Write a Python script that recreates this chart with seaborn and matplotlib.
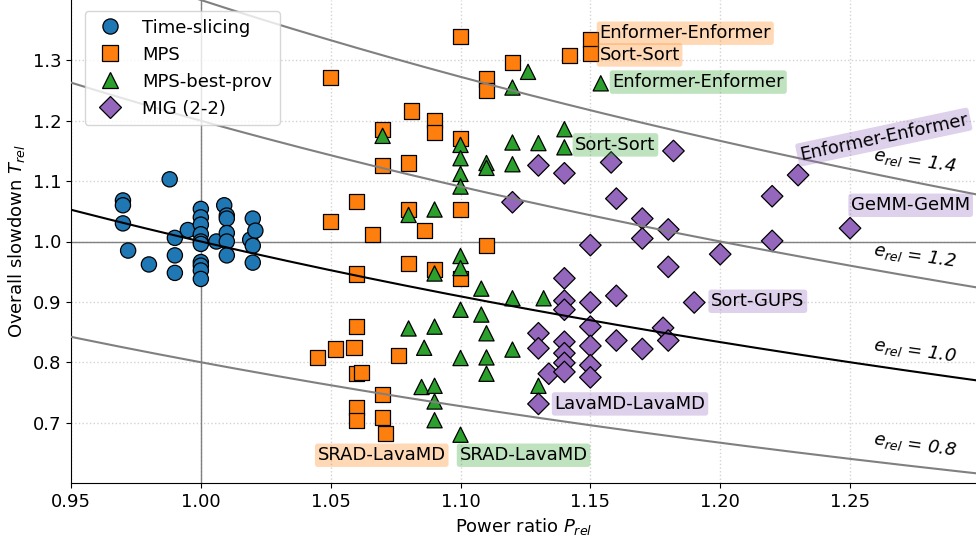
import numpy as np
import pandas as pd
import seaborn as sns
import matplotlib.pyplot as plt

# Time-slicing
ts_p = [0.970, 0.970, 0.970, 0.988, 0.972, 0.980, 0.990, 0.990, 0.990, 0.995,
        1.000, 1.000, 1.000, 1.000, 1.000, 1.000, 1.000, 1.000, 1.000, 1.000,
        1.006, 1.009, 1.010, 1.010, 1.010, 1.010, 1.010, 1.019, 1.020, 1.021,
        1.020, 1.020]
ts_t = [1.068, 1.060, 1.030, 1.103, 0.985, 0.962, 1.006, 0.977, 0.948, 1.019,
        1.054, 1.040, 1.028, 1.012, 1.000, 0.996, 0.966, 0.960, 0.952, 0.938,
        1.000, 1.060, 1.043, 1.038, 1.014, 1.000, 0.977, 1.003, 1.038, 1.018,
        0.993, 0.965]

# MPS
mps_p = [1.050, 1.100, 1.120, 1.110, 1.110, 1.081, 1.090, 1.090, 1.070, 1.100,
         1.080, 1.070, 1.060, 1.050, 1.080, 1.100, 1.066, 1.086, 1.110, 1.080,
         1.090, 1.060, 1.100, 1.060, 1.052, 1.059, 1.045, 1.060, 1.062, 1.076,
         1.070, 1.060, 1.060, 1.070, 1.071, 1.142, 1.150, 1.150]
mps_t = [1.271, 1.339, 1.296, 1.269, 1.250, 1.216, 1.200, 1.180, 1.185, 1.171,
         1.130, 1.126, 1.066, 1.033, 1.053, 1.053, 1.012, 1.018, 0.993, 0.963,
         0.953, 0.946, 0.939, 0.859, 0.822, 0.824, 0.808, 0.782, 0.783, 0.811,
         0.746, 0.725, 0.704, 0.709, 0.682, 1.308, 1.335, 1.311]

# MPS-best-prov
best_p = [1.120, 1.070, 1.100, 1.120, 1.100, 1.110, 1.110, 1.120, 1.100, 1.100,
          1.090, 1.080, 1.126, 1.154, 1.130, 1.140, 1.140, 1.100, 1.100, 1.090,
          1.108, 1.120, 1.132, 1.100, 1.108, 1.080, 1.090, 1.110, 1.086, 1.120,
          1.100, 1.110, 1.110, 1.085, 1.090, 1.090, 1.090, 1.100, 1.130]
best_t = [1.255, 1.175, 1.160, 1.164, 1.138, 1.130, 1.122, 1.128, 1.112, 1.091,
          1.053, 1.044, 1.281, 1.262, 1.163, 1.186, 1.156, 0.976, 0.956, 0.947,
          0.922, 0.906, 0.906, 0.887, 0.879, 0.856, 0.859, 0.848, 0.824, 0.821,
          0.807, 0.808, 0.781, 0.759, 0.761, 0.735, 0.704, 0.680, 0.761]

# MIG (2-2)
mig_p = [1.130, 1.140, 1.158, 1.182, 1.120, 1.160, 1.170, 1.180, 1.230, 1.220,
         1.170, 1.250, 1.220, 1.200, 1.180, 1.160, 1.190, 1.150, 1.140, 1.140,
         1.150, 1.140, 1.150, 1.178, 1.180, 1.130, 1.140, 1.150, 1.160, 1.170,
         1.130, 1.140, 1.140, 1.150, 1.134, 1.140, 1.150, 1.130]
mig_t = [1.126, 1.113, 1.131, 1.150, 1.065, 1.071, 1.038, 1.020, 1.110, 1.075,
         1.005, 1.022, 1.001, 0.979, 0.958, 0.910, 0.899, 0.994, 0.939, 0.902,
         0.899, 0.887, 0.859, 0.857, 0.836, 0.848, 0.834, 0.827, 0.836, 0.822,
         0.823, 0.815, 0.799, 0.795, 0.781, 0.784, 0.775, 0.731]

modos = ['Time-slicing', 'MPS', 'MPS-best-prov', 'MIG (2-2)']
colores = {'Time-slicing': '#1f77b4', 'MPS': '#ff7f0e',
           'MPS-best-prov': '#2ca02c', 'MIG (2-2)': '#9467bd'}
marcadores = {'Time-slicing': 'o', 'MPS': 's', 'MPS-best-prov': '^', 'MIG (2-2)': 'D'}

# curvas de eficiencia constante: T = e / P
e_valores = [1.4, 1.2, 1.0, 0.8]

# etiquetas de pares de aplicaciones (texto, modo, P, T)
etiquetas = [
    ('Enformer-Enformer', 'MPS', 1.1535, 1.345),
    ('Sort-Sort', 'MPS', 1.1535, 1.309),
    ('Enformer-Enformer', 'MPS-best-prov', 1.1585, 1.264),
    ('Sort-Sort', 'MPS-best-prov', 1.1442, 1.160),
    ('GeMM-GeMM', 'MIG (2-2)', 1.2504, 1.060),
    ('Sort-GUPS', 'MIG (2-2)', 1.1965, 0.901),
    ('LavaMD-LavaMD', 'MIG (2-2)', 1.1362, 0.731),
    ('SRAD-LavaMD', 'MPS', 1.0450, 0.646),
    ('SRAD-LavaMD', 'MPS-best-prov', 1.0996, 0.646),
]

df = pd.concat([
    pd.DataFrame({'P': ts_p, 'T': ts_t, 'modo': 'Time-slicing'}),
    pd.DataFrame({'P': mps_p, 'T': mps_t, 'modo': 'MPS'}),
    pd.DataFrame({'P': best_p, 'T': best_t, 'modo': 'MPS-best-prov'}),
    pd.DataFrame({'P': mig_p, 'T': mig_t, 'modo': 'MIG (2-2)'}),
], ignore_index=True)

sns.set_style('ticks')
plt.rcParams['font.family'] = ['DejaVu Sans']
plt.rcParams['font.size'] = 13
for clave in ['text.color', 'axes.labelcolor', 'xtick.color', 'ytick.color', 'axes.edgecolor']:
    plt.rcParams[clave] = 'black'

fig = plt.figure(figsize=(9.76, 5.37), dpi=100)
ax = fig.add_axes([71 / 976, 54 / 537, 905 / 976, 483 / 537])

sns.scatterplot(data=df, x='P', y='T', hue='modo', style='modo', hue_order=modos,
                style_order=modos, palette=colores, markers=marcadores, s=120,
                edgecolor='black', linewidth=0.9, alpha=1, ax=ax, zorder=2)

x_curva = np.linspace(0.94, 1.31, 300)
for e in e_valores:
    color = 'black' if e == 1.0 else 'grey'
    ax.plot(x_curva, e / x_curva, color=color, lw=1.5, zorder=3)
    ax.text(1.275, e / 1.275 + 0.035, f'$e_{{rel}}$ = {e:.1f}', rotation=-8,
            ha='center', va='center', fontsize=13, style='italic', zorder=4)

ax.axvline(1.0, color='grey', lw=1.0, zorder=1)
ax.axhline(1.0, color='grey', lw=1.0, zorder=1)

for texto, modo, px, py in etiquetas:
    ax.text(px, py, texto, ha='left', va='center', fontsize=13, zorder=5,
            bbox=dict(boxstyle='round,pad=0.15', fc=colores[modo], alpha=0.3, ec='none'))
# la etiqueta girada
ax.text(1.263, 1.173, 'Enformer-Enformer', ha='center', va='center', rotation=12,
        fontsize=13, zorder=5,
        bbox=dict(boxstyle='round,pad=0.15', fc=colores['MIG (2-2)'], alpha=0.3, ec='none'))

ax.set_xlim(0.95, 1.2985)
ax.set_ylim(0.6, 1.4)
ax.set_xticks([0.95, 1.00, 1.05, 1.10, 1.15, 1.20, 1.25])
ax.set_yticks([0.7, 0.8, 0.9, 1.0, 1.1, 1.2, 1.3])
ax.grid(True, linestyle=':', color='lightgrey', lw=1.0)
ax.set_axisbelow(True)
ax.set_xlabel('Power ratio $P_{rel}$')
ax.set_ylabel('Overall slowdown $T_{rel}$')
sns.despine(ax=ax)

ax.legend(loc='upper left', bbox_to_anchor=(0.005, 0.995), fontsize=13, markerscale=1.0)

fig.savefig('out.png', dpi=100)
